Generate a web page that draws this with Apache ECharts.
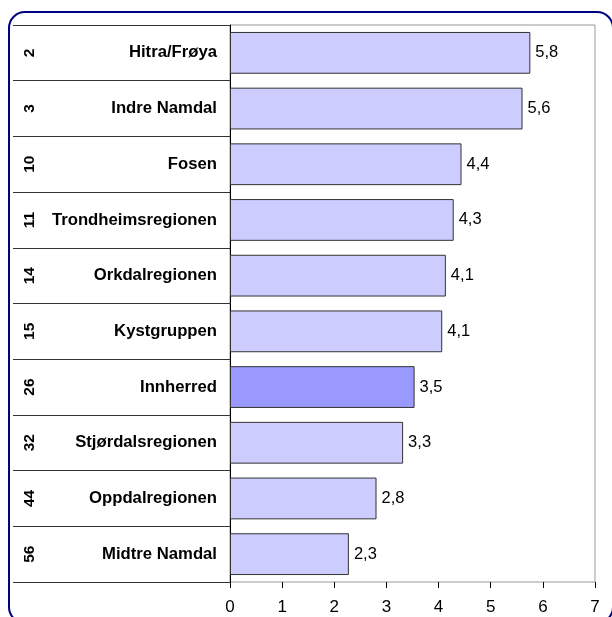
<!DOCTYPE html>
<html>
<head>
<meta charset="utf-8">
<script src="https://cdn.jsdelivr.net/npm/echarts@6/dist/echarts.min.js"></script>
<style>
  html, body { margin: 0; padding: 0; background: #fff; }
  #main { width: 612px; height: 617px; }
</style>
</head>
<body>
<div id="main"></div>
<script>
const regions = ['Hitra/Frøya', 'Indre Namdal', 'Fosen', 'Trondheimsregionen', 'Orkdalregionen',
  'Kystgruppen', 'Innherred', 'Stjørdalsregionen', 'Oppdalregionen', 'Midtre Namdal']
const ranks = ['2', '3', '10', '11', '14', '15', '26', '32', '44', '56']
const values = [5.76, 5.61, 4.44, 4.29, 4.14, 4.07, 3.54, 3.32, 2.81, 2.28]
const highlight = 'Innherred' // egen farge

const chart = echarts.init(document.getElementById('main'))

chart.setOption({
  animation: false,
  textStyle: { fontFamily: 'Liberation Sans, Arial, sans-serif' },
  graphic: [{
    type: 'rect',
    shape: { x: 9, y: 12, width: 604, height: 611, r: 16 },
    style: { fill: 'none', stroke: '#000080', lineWidth: 2 },
    z: 100
  }],
  grid: [
    { left: 13, top: 25, width: 217, bottom: 35 }, // tabell til venstre
    { left: 230, top: 25, right: 17, bottom: 35, show: true, borderColor: '#999', borderWidth: 1 }
  ],
  xAxis: [
    { gridIndex: 0, type: 'value', show: false },
    {
      gridIndex: 1, type: 'value', min: 0, max: 7, interval: 1,
      axisLine: { lineStyle: { color: '#000', width: 1 } },
      axisTick: { show: true, length: 6, lineStyle: { color: '#000' } },
      axisLabel: { fontSize: 17, color: '#000', margin: 17 },
      splitLine: { show: false }
    }
  ],
  yAxis: [
    {
      gridIndex: 0, type: 'category', data: ranks, inverse: true,
      axisLine: { show: false }, axisTick: { show: false },
      splitLine: { show: true, lineStyle: { color: '#333', width: 1 } },
      axisLabel: { inside: true, rotate: 90, margin: 9, fontSize: 15.5, fontWeight: 'bold', color: '#000' }
    },
    {
      gridIndex: 1, type: 'category', data: regions, inverse: true,
      axisLine: { lineStyle: { color: '#000', width: 1 } },
      axisTick: { show: false },
      axisLabel: { margin: 13, fontSize: 16.7, fontWeight: 'bold', color: '#000' }
    }
  ],
  series: [{
    type: 'bar',
    xAxisIndex: 1,
    yAxisIndex: 1,
    barCategoryGap: '25%',
    data: values.map((v, i) => ({
      value: v,
      itemStyle: { color: regions[i] === highlight ? '#9999FF' : '#CCCCFF' }
    })),
    itemStyle: { borderColor: '#333', borderWidth: 1 },
    label: {
      show: true, position: 'right', distance: 5,
      fontSize: 16.5, color: '#000',
      formatter: p => p.value.toFixed(1).replace('.', ',')
    }
  }]
})
</script>
</body>
</html>
